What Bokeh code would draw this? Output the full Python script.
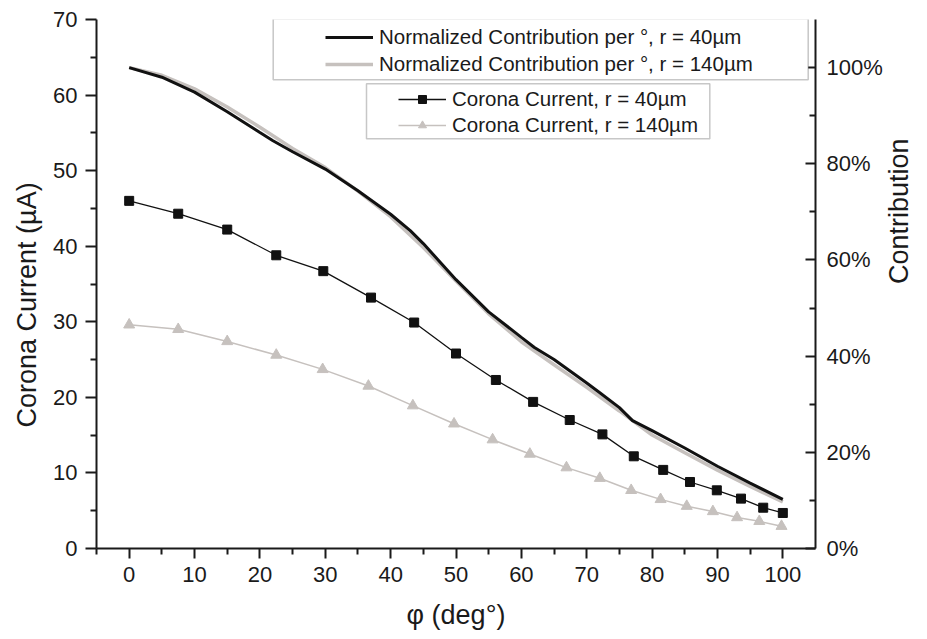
import math
from bokeh.plotting import figure
from bokeh.models import (Range1d, LinearAxis, FixedTicker, PrintfTickFormatter,
                          Legend, LegendItem, BoxAnnotation, Title)
from bokeh.embed import file_html
from bokeh.resources import INLINE

# ---------------- data ----------------
phi_sq = [0, 7.5, 15, 22.5, 29.7, 37.0, 43.6, 50.0, 56.1, 61.8, 67.4, 72.4,
          77.2, 81.7, 85.8, 89.9, 93.6, 97.0, 100.0]
current_40 = [46.0, 44.3, 42.2, 38.8, 36.7, 33.2, 29.9, 25.8, 22.3, 19.4, 17.0,
              15.1, 12.2, 10.4, 8.8, 7.7, 6.6, 5.4, 4.7]

phi_tri = [0, 7.5, 15, 22.5, 29.6, 36.6, 43.4, 49.7, 55.6, 61.3, 66.9, 72.0,
           76.8, 81.3, 85.3, 89.3, 93.0, 96.4, 99.8]
current_140 = [29.6, 29.0, 27.4, 25.6, 23.7, 21.5, 18.9, 16.5, 14.4, 12.5, 10.7,
               9.3, 7.7, 6.5, 5.6, 4.9, 4.1, 3.6, 2.95]

phi_c40 = [0, 5, 10, 15, 20, 22, 25, 30, 35, 40, 43, 45, 50, 55, 60, 62, 65,
           70, 72, 75, 77, 80, 85, 90, 95, 100]
contrib_40 = [100, 98.0, 94.9, 90.8, 86.5, 84.8, 82.5, 78.9, 74.4, 69.5, 66.1,
              63.4, 55.9, 49.2, 43.9, 41.8, 39.3, 34.4, 32.4, 29.3, 26.6, 24.5,
              20.9, 17.1, 13.6, 10.2]

phi_c140 = [0, 5, 10, 15, 20, 25, 30, 35, 40, 45, 50, 55, 60, 65, 70, 75, 80,
            85, 90, 95, 100]
contrib_140 = [100, 98.4, 95.6, 91.8, 87.6, 83.2, 79.2, 74.3, 69.0, 62.6, 55.6,
               48.8, 43.0, 38.2, 33.5, 28.6, 23.6, 19.9, 16.3, 12.9, 9.7]

x_ticks = [0, 10, 20, 30, 40, 50, 60, 70, 80, 90, 100]
x_minor = [-5, 5, 15, 25, 35, 45, 55, 65, 75, 85, 95]
y_ticks = [0, 10, 20, 30, 40, 50, 60, 70]
y_minor = [5, 15, 25, 35, 45, 55, 65]
pct_ticks = [0, 20, 40, 60, 80, 100]
pct_minor = [10, 30, 50, 70, 90]

FONT = "Liberation Sans"
BLACK = "#111111"
GRAY = "#c6c1be"
INK = "#1a1a1a"

p = figure(frame_width=719, frame_height=529, output_backend="svg",
           toolbar_location=None, x_range=Range1d(-5, 105), y_range=Range1d(0, 70),
           min_border_left=96, min_border_right=112, min_border_top=19,
           min_border_bottom=91)
p.extra_y_ranges = {"pct": Range1d(0, 110)}
p.outline_line_color = None
p.xgrid.visible = False
p.ygrid.visible = False
p.background_fill_color = "white"
p.border_fill_color = "white"


def style_axis(ax):
    ax.axis_line_width = 2
    ax.axis_line_color = INK
    ax.major_tick_line_width = 2
    ax.minor_tick_line_width = 2
    ax.major_tick_line_color = INK
    ax.minor_tick_line_color = INK
    ax.major_label_text_font = FONT
    ax.major_label_text_font_size = "22px"
    ax.major_label_text_color = INK
    ax.axis_label_text_font = FONT
    ax.axis_label_text_font_size = "27px"
    ax.axis_label_text_font_style = "normal"
    ax.axis_label_text_color = INK


xa = p.xaxis[0]
style_axis(xa)
xa.ticker = FixedTicker(ticks=x_ticks, minor_ticks=x_minor)
xa.major_tick_out = 10
xa.major_tick_in = 0
xa.minor_tick_out = 6
xa.minor_tick_in = 0
xa.major_label_standoff = 8
xa.axis_label = "φ (deg°)"
xa.axis_label_standoff = 15

ya = p.yaxis[0]
style_axis(ya)
ya.ticker = FixedTicker(ticks=y_ticks, minor_ticks=y_minor)
ya.major_tick_out = 11
ya.major_tick_in = 0
ya.minor_tick_out = 6
ya.minor_tick_in = 0
ya.major_label_standoff = 8

ra = LinearAxis(y_range_name="pct")
style_axis(ra)
ra.ticker = FixedTicker(ticks=pct_ticks, minor_ticks=pct_minor)
ra.formatter = PrintfTickFormatter(format="%d%%")
ra.major_tick_out = 0
ra.major_tick_in = 10
ra.minor_tick_out = 0
ra.minor_tick_in = 6
ra.major_label_standoff = 11
ra.axis_label = "Contribution"
ra.axis_label_orientation = math.pi / 2
ra.axis_label_text_align = "center"
ra.axis_label_standoff = 13
p.add_layout(ra, "right")

# left vertical title (sits a little below the frame centre, as in the source)
left_title = Title(text="Corona Current (µA)", align="left", offset=121,
                   standoff=18, text_font=FONT, text_font_size="27px",
                   text_font_style="normal", text_color=INK)
p.add_layout(left_title, "left")

# contribution curves (right axis)
g140 = p.line(phi_c140, contrib_140, y_range_name="pct", line_color=GRAY,
              line_width=3.5)
g40 = p.line(phi_c40, contrib_40, y_range_name="pct", line_color=BLACK,
             line_width=3)

# corona currents (left axis)
l140 = p.line(phi_tri, current_140, line_color=GRAY, line_width=1.5)
s140 = p.scatter(phi_tri, current_140, marker="triangle", size=11,
                 fill_color=GRAY, line_color=GRAY)
l40 = p.line(phi_sq, current_40, line_color=BLACK, line_width=1.3)
s40 = p.scatter(phi_sq, current_40, marker="square", size=9,
                fill_color=BLACK, line_color=BLACK)

# legend frames
box1 = BoxAnnotation(left=176.7, right=711.7, bottom=468.7, top=529.7,
                     left_units="screen", right_units="screen",
                     bottom_units="screen", top_units="screen",
                     fill_color="white", fill_alpha=1.0,
                     line_color="#444444", line_width=1.5)
box2 = BoxAnnotation(left=270, right=613.3, bottom=409.7, top=464.7,
                     left_units="screen", right_units="screen",
                     bottom_units="screen", top_units="screen",
                     fill_color="white", fill_alpha=1.0,
                     line_color="#444444", line_width=1.5)
p.add_layout(box1)
p.add_layout(box2)


def make_legend(items, loc, spacing):
    lg = Legend(items=items, location=loc, orientation="vertical",
                padding=0, margin=0, spacing=spacing,
                glyph_width=48, glyph_height=20, label_height=20,
                label_standoff=6, label_text_font=FONT,
                label_text_font_size="20.5px", label_text_color=INK,
                background_fill_alpha=0, border_line_alpha=0)
    return lg


leg1 = make_legend([
    LegendItem(label="Normalized Contribution per °, r = 40µm", renderers=[g40]),
    LegendItem(label="Normalized Contribution per °, r = 140µm", renderers=[g140]),
], (229, 472.2), 3)
leg2 = make_legend([
    LegendItem(label="Corona Current, r = 40µm", renderers=[l40, s40]),
    LegendItem(label="Corona Current, r = 140µm", renderers=[l140, s140]),
], (302, 410.7), 2)
p.add_layout(leg1)
p.add_layout(leg2)

open("out.html", "w").write(file_html(p, INLINE))
